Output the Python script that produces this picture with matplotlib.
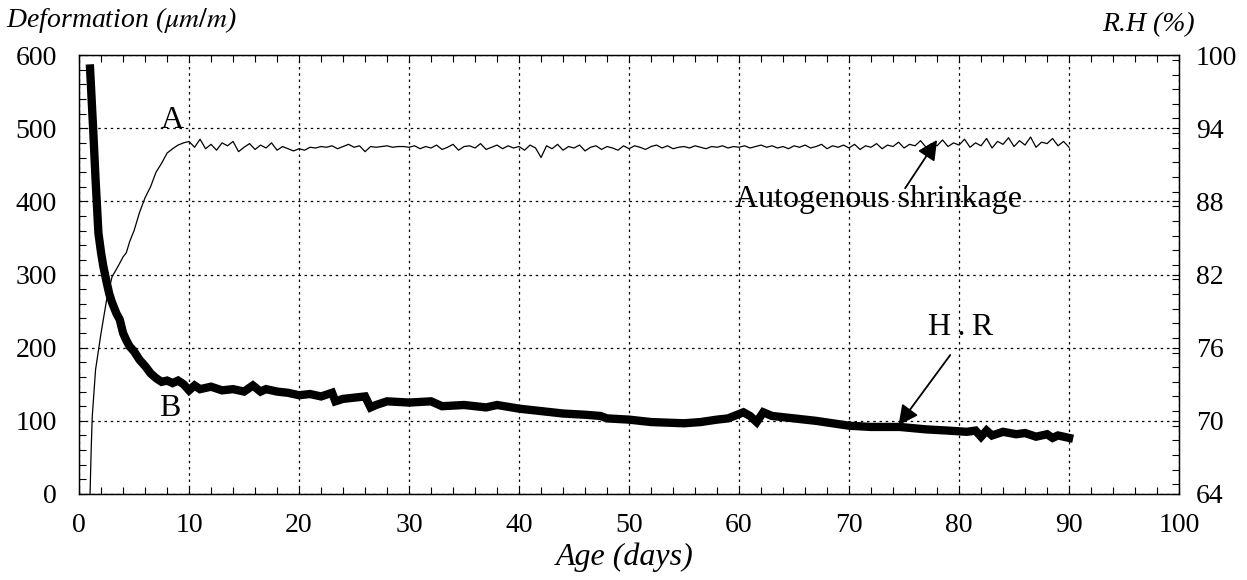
import numpy as np
import matplotlib.pyplot as plt
from matplotlib.ticker import MultipleLocator

plt.rcParams['font.family'] = ['Liberation Serif', 'DejaVu Serif']
plt.rcParams['mathtext.fontset'] = 'stix'

# autogenous shrinkage (A), left axis, micro-strain
days_a_early = [1.0, 1.1, 1.2, 1.5, 2.0, 2.5, 3.0, 3.5, 4.0, 4.3, 4.6, 5.0, 5.5,
                6.0, 6.5, 7.0, 7.5, 8.0, 8.5, 9.0, 9.5]
shrink_early = [0, 60, 106, 170, 220, 265, 297, 310, 324, 330, 345, 360, 385,
                405, 420, 440, 452, 466, 472, 477, 480]
shrink_late = [
    482, 474, 485, 472, 478, 470, 480, 476, 482, 468, 474, 479, 471, 477, 473, 480, 470, 475, 472, 469,
    472, 470, 474, 473, 475, 474, 476, 472, 475, 478, 474, 476, 468, 475, 474, 475, 476, 474, 475, 475,
    474, 476, 472, 475, 473, 477, 471, 474, 478, 470, 475, 476, 473, 479, 471, 474, 477, 472, 476, 473,
    475, 470, 477, 473, 460, 476, 472, 478, 470, 475, 473, 477, 469, 474, 476, 471, 475, 473, 470, 476,
    472, 476, 474, 471, 475, 477, 473, 476, 472, 474, 475, 473, 476, 474, 472, 475, 474, 476, 473, 475,
    474, 476, 473, 475, 477, 474, 476, 473, 475, 472, 476, 474, 477, 473, 475, 478, 472, 476, 474, 477,
    473, 478, 471, 476, 474, 479, 472, 477, 475, 481, 473, 478, 476, 483, 474, 479, 476, 484, 475, 480,
    477, 485, 474, 480, 476, 486, 473, 482, 478, 487, 475, 483, 477, 488, 474, 481, 479, 486, 476, 482, 474]
days_a_late = [10 + 0.5 * i for i in range(len(shrink_late))]
days_a = days_a_early + days_a_late
shrink = shrink_early + shrink_late

# relative humidity (B), right axis, %
days_rh = [1.0, 1.3, 1.5, 1.76, 2.0, 2.2, 2.5, 2.75, 3.0, 3.4, 3.7, 4.0, 4.3, 4.6, 5.0,
           5.5, 6.0, 6.5, 7.0, 7.5, 8.0, 8.5, 9.0, 9.5, 10.0, 10.5, 11, 12, 13, 14,
           15, 15.8, 16.5, 17, 18, 19, 20, 21, 22, 23, 23.3, 24, 25, 26, 26.5, 27,
           28, 30, 32, 33, 35, 37, 38, 40, 42, 44, 46, 47.4, 48, 50, 52, 55, 56.5,
           58, 59, 60.4, 61, 61.6, 62.2, 63, 65, 67, 70, 72, 74.6, 77, 79, 80.7,
           81.5, 82, 82.5, 83, 84, 85.2, 86, 87, 88, 88.5, 89, 90]
rh = [98.9, 93.6, 89.8, 85.4, 83.8, 82.7, 81.4, 80.4, 79.7, 78.8, 78.3, 77.2, 76.6, 76.1, 75.7,
      75.0, 74.5, 73.9, 73.5, 73.2, 73.3, 73.1, 73.3, 73.0, 72.5, 72.9, 72.6, 72.8, 72.5, 72.6,
      72.4, 72.9, 72.4, 72.6, 72.4, 72.3, 72.1, 72.2, 72.0, 72.3, 71.6, 71.8, 71.9, 72.0, 71.1, 71.3,
      71.6, 71.5, 71.6, 71.2, 71.3, 71.1, 71.3, 71.0, 70.8, 70.6, 70.5, 70.4, 70.2, 70.1, 69.9, 69.8, 69.9,
      70.1, 70.2, 70.7, 70.4, 69.9, 70.7, 70.4, 70.2, 70.0, 69.6, 69.5, 69.5, 69.3, 69.2, 69.1,
      69.2, 68.7, 69.2, 68.8, 69.1, 68.9, 69.0, 68.7, 68.9, 68.6, 68.8, 68.6]

fig = plt.figure(figsize=(12.47, 5.8), dpi=100)
ax = fig.add_axes([0.0634, 0.1483, 0.8821, 0.7567])
ax2 = ax.twinx()

ax.plot(days_a, shrink, color='black', lw=0.9)
ax2.plot(days_rh, rh, color='black', lw=6, solid_joinstyle='miter')

ax.set_xlim(0, 100)
ax.set_ylim(0, 600)
ax2.set_ylim(64, 100)
ax.xaxis.set_major_locator(MultipleLocator(10))
ax.xaxis.set_minor_locator(MultipleLocator(2))
ax.yaxis.set_major_locator(MultipleLocator(100))
ax.yaxis.set_minor_locator(MultipleLocator(20))
ax2.yaxis.set_major_locator(MultipleLocator(6))
ax2.yaxis.set_minor_locator(MultipleLocator(1.2))
ax.set_yticks(range(0, 601, 100))
ax2.set_yticks(range(64, 101, 6))

ax.grid(True, which='major', color='black', linestyle=(0, (2, 3)), lw=0.9)
ax.tick_params(which='both', direction='in', top=True, right=False, labelsize=20,
               length=5, width=0.8)
ax.tick_params(axis='y', pad=16)
ax.tick_params(axis='x', pad=14)
ax2.tick_params(which='both', direction='in', labelsize=20, length=5, width=0.8, pad=12)
for a in (ax, ax2):
    for s in a.spines.values():
        s.set_linewidth(0.9)

fig.text(0.005, 0.965, r'Deformation ($\mu m/m$)', fontsize=20, style='italic',
         ha='left', va='center')
fig.text(0.921, 0.958, 'R.H (%)', fontsize=20, style='italic', ha='center', va='center')
fig.text(0.501, 0.04, 'Age (days)', fontsize=23, style='italic', ha='center', va='center')

ax.text(8.5, 511, 'A', fontsize=23, ha='center', va='center')
ax.text(8.2, 117, 'B', fontsize=23, ha='center', va='center')
ax.text(72.7, 402, 'Autogenous shrinkage', fontsize=23, ha='center', va='center')
ax.text(80.1, 228, 'H\u2009.\u2009R', fontsize=23, ha='center', va='center')
arrow = dict(arrowstyle='-|>', color='black', lw=1.3, mutation_scale=30, shrinkA=0, shrinkB=0)
ax.annotate('', xy=(78.0, 484), xytext=(75.1, 418), arrowprops=arrow)
ax.annotate('', xy=(74.5, 94), xytext=(79.2, 190), arrowprops=arrow)

fig.savefig('out.png', dpi=100)
